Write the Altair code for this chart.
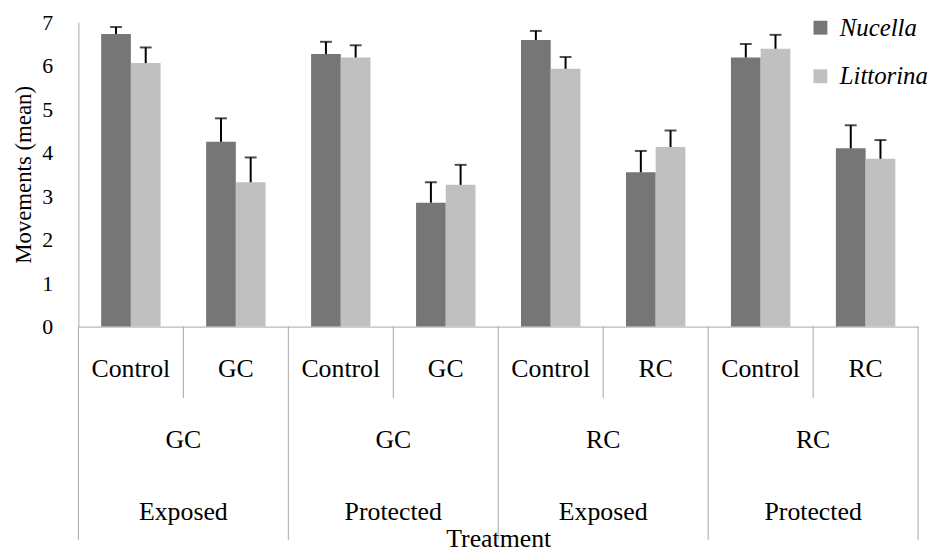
import altair as alt
import pandas as pd

# ---- data ----
sites = ["Exposed", "Exposed", "Protected", "Protected", "Exposed", "Exposed", "Protected", "Protected"]
cues = ["GC", "GC", "GC", "GC", "RC", "RC", "RC", "RC"]
treatments = ["Control", "GC", "Control", "GC", "Control", "RC", "Control", "RC"]
species = ["Nucella", "Littorina"]
nucella_mean = [6.73, 4.25, 6.27, 2.85, 6.59, 3.55, 6.19, 4.10]
nucella_upper = [6.89, 4.79, 6.55, 3.32, 6.80, 4.04, 6.50, 4.63]
littorina_mean = [6.06, 3.32, 6.19, 3.26, 5.93, 4.13, 6.39, 3.86]
littorina_upper = [6.42, 3.89, 6.47, 3.72, 6.20, 4.51, 6.71, 4.29]
y_ticks = [0, 1, 2, 3, 4, 5, 6, 7]

keys = [f"{s}|{c}|{t}|{i}" for i, (s, c, t) in enumerate(zip(sites, cues, treatments))]

rows = []
for i, k in enumerate(keys):
    rows.append({"key": k, "species": "Nucella", "mean": nucella_mean[i], "upper": nucella_upper[i]})
    rows.append({"key": k, "species": "Littorina", "mean": littorina_mean[i], "upper": littorina_upper[i]})
df = pd.DataFrame(rows)

lvl1 = pd.DataFrame({"key": keys, "label": treatments})
lvl2 = pd.DataFrame({"key": keys[0::2], "label": cues[0::2]})
lvl3 = pd.DataFrame({"key": keys[0::2], "label": sites[0::2]})
long_div = pd.DataFrame({"key": keys[0::2]})
last_div = pd.DataFrame({"key": keys[-1:]})
short_div = pd.DataFrame({"key": keys[1::2]})

FONT = "Liberation Serif"
GRAY = "#A6A6A6"
H = 307

xscale = alt.Scale(domain=keys, paddingInner=0, paddingOuter=0)
offscale = alt.Scale(domain=species, paddingInner=0, paddingOuter=0.767)
yscale = alt.Scale(domain=[0, 7], nice=False)
YT = "Movements (mean)"


def X(bp=None):
    if bp is None:
        return alt.X("key:N", scale=xscale, title="Treatment")
    return alt.X("key:N", scale=xscale, title="Treatment", bandPosition=bp)


XO = alt.XOffset("species:N", scale=offscale)

bars = alt.Chart(df).mark_bar().encode(
    x=X(),
    xOffset=XO,
    y=alt.Y("mean:Q", scale=yscale, title=YT, axis=alt.Axis(values=y_ticks)),
    color=alt.Color(
        "species:N",
        scale=alt.Scale(domain=species, range=["#767676", "#C0C0C0"]),
        legend=alt.Legend(
            title=None, orient="none", legendX=736, legendY=-7,
            symbolType="square", symbolSize=196, symbolStrokeWidth=0,
            labelFont=FONT, labelFontStyle="italic", labelFontSize=25,
            labelColor="black", rowPadding=23, labelOffset=7,
        ),
    ),
)

err = alt.Chart(df).mark_rule(color="black", strokeWidth=2).encode(
    x=X(), xOffset=XO,
    y=alt.Y("mean:Q", scale=yscale, title=YT), y2="upper:Q",
)
caps = alt.Chart(df).mark_tick(color="black", thickness=2, size=12).encode(
    x=X(), xOffset=XO,
    y=alt.Y("upper:Q", scale=yscale, title=YT),
)


def divider(data, bp, y2):
    return alt.Chart(data).mark_rule(color=GRAY, strokeWidth=1).encode(
        x=X(bp), y=alt.value(H), y2=alt.value(y2)
    )


d_long = divider(long_div, 0, 522)
d_last = divider(last_div, 1, 522)
d_short = divider(short_div, 0, 379)


def labels(data, bp, ypix):
    return alt.Chart(data).mark_text(
        font=FONT, fontSize=26, color="black", align="center", baseline="alphabetic"
    ).encode(x=X(bp), y=alt.value(ypix), text="label:N")


t1 = labels(lvl1, 0.5, 358)
t2 = labels(lvl2, 1, 429)
t3 = labels(lvl3, 1, 502)

chart = alt.layer(bars, err, caps, d_long, d_last, d_short, t1, t2, t3).properties(
    width=847, height=H,
    padding={"left": 71, "right": 10, "top": 12, "bottom": 225},
    autosize=alt.AutoSizeParams(type="none"),
).configure_view(stroke=None).configure_legend(
    labelFont=FONT, labelFontStyle="italic", labelFontSize=25, labelColor="black",
).configure_axisX(
    labels=False, ticks=False, grid=False, domainColor=GRAY, domainWidth=1,
    titleFont=FONT, titleFontSize=26, titleFontWeight="normal", titleColor="black",
    titleY=222, titleBaseline="alphabetic",
).configure_axisY(
    ticks=False, grid=False, domainColor=GRAY, domainWidth=1,
    labelFont=FONT, labelFontSize=22, labelColor="black", labelPadding=26,
    titleFont=FONT, titleFontSize=23, titleFontWeight="normal", titleColor="black",
    titlePadding=6,
)

chart.save("out.html", embed_options={"renderer": "svg", "actions": False})
